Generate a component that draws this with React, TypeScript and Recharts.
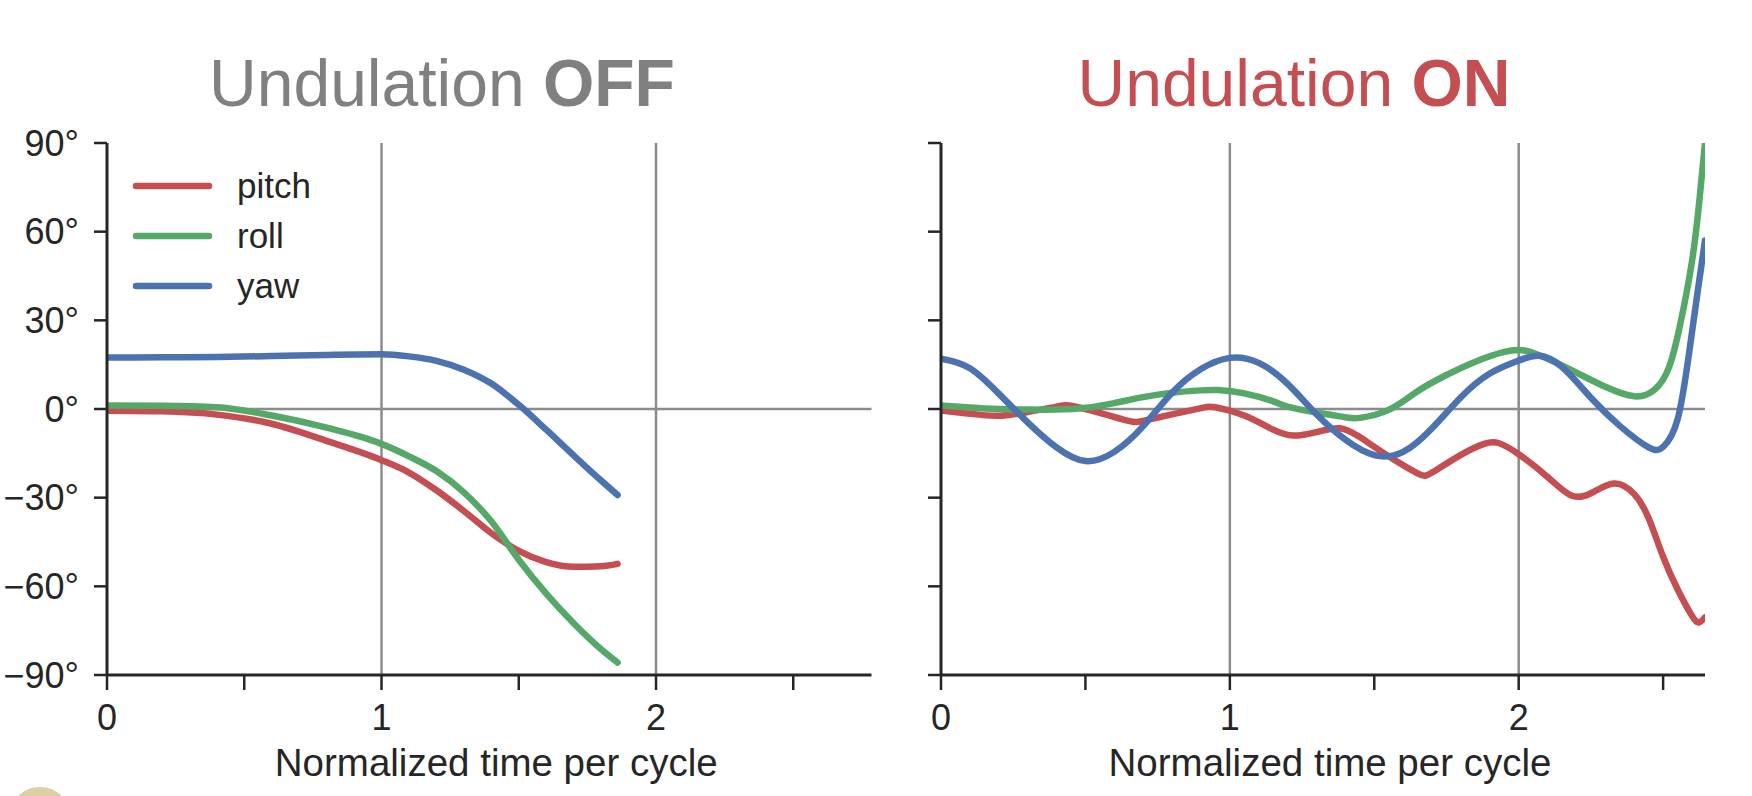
import React from 'react';
import { LineChart, Line, XAxis, YAxis, ReferenceLine, Legend, Label } from 'recharts';

// series names + seaborn "deep" colours
const seriesNames = ['pitch', 'roll', 'yaw'];
const seriesColors = ['#C44E52', '#55A868', '#4C72B0'];

const yTicks = [-90, -60, -30, 0, 30, 60, 90];
const xTicks = [0, 0.5, 1, 1.5, 2, 2.5];

// Undulation OFF
const offTime = [0, 0.2, 0.4, 0.6, 0.8, 1.0, 1.1, 1.2, 1.3, 1.4, 1.5, 1.6, 1.7, 1.8, 1.86];
const offPitch = [-0.6, -0.8, -1.9, -5.0, -10.8, -17.3, -21.5, -27.5, -34.5, -42, -48, -51.8, -53.4, -53.2, -52.4];
const offRoll = [1.2, 1.1, 0.6, -2.2, -6.3, -11.8, -16, -21, -28.2, -38, -51, -62.5, -72.5, -81.3, -85.8];
const offYaw = [17.4, 17.5, 17.6, 17.9, 18.3, 18.5, 17.8, 16.3, 13.3, 8.6, 1.4, -7, -15.7, -24.2, -29.1];

// Undulation ON
const onPitchTime = [0, 0.1, 0.2, 0.3, 0.4, 0.45, 0.55, 0.65, 0.7, 0.8, 0.9, 0.95, 1.05, 1.15, 1.22, 1.3, 1.38, 1.45, 1.55, 1.65, 1.7, 1.8, 1.88, 1.93, 2.0, 2.1, 2.18, 2.25, 2.33, 2.4, 2.45, 2.5, 2.55, 2.6, 2.625, 2.645];
const onPitch = [-0.5, -1.6, -2.3, -1, 0.8, 1.1, -1.3, -4, -4, -1.8, 0.3, 0.6, -2.2, -7, -9, -7.8, -6.5, -9.5, -16, -21.8, -21.5, -15.5, -11.8, -11.5, -15.3, -23, -29.2, -28.5, -25.2, -28.8, -37, -50, -61, -70, -72.2, -70.5];

const onRollTime = [0, 0.1, 0.2, 0.3, 0.4, 0.5, 0.6, 0.7, 0.8, 0.9, 0.96, 1.05, 1.15, 1.2, 1.3, 1.4, 1.45, 1.55, 1.65, 1.75, 1.85, 1.95, 2.02, 2.1, 2.2, 2.3, 2.4, 2.47, 2.52, 2.56, 2.6, 2.625, 2.645];
const onRoll = [1.2, 0.5, 0, -0.2, -0.2, 0.4, 2, 4, 5.5, 6.3, 6.4, 5.3, 2.6, 0.8, -1.2, -2.8, -3, -0.3, 6, 11.5, 16, 19.3, 19.8, 17, 12.3, 7.5, 4.3, 6.5, 14, 29, 50, 70, 90];

const onYawTime = [0, 0.1, 0.2, 0.3, 0.4, 0.5, 0.6, 0.7, 0.8, 0.9, 1.0, 1.1, 1.2, 1.3, 1.4, 1.5, 1.6, 1.7, 1.8, 1.9, 2.0, 2.07, 2.15, 2.25, 2.35, 2.45, 2.5, 2.55, 2.59, 2.62, 2.645];
const onYaw = [17, 13.8, 5.2, -4.5, -13, -17.6, -14.5, -5.8, 5.5, 13.5, 17.3, 15.6, 8.5, -1.8, -10.4, -15.6, -14.5, -6.5, 4, 12, 16.4, 18, 14.2, 3.8, -5.7, -13, -12.8, -3.5, 19, 40, 57];

const toPoints = (t: number[], v: number[]) => t.map((x, i) => ({ t: x, v: v[i] }));

const offSeries = [toPoints(offTime, offPitch), toPoints(offTime, offRoll), toPoints(offTime, offYaw)];
const onSeries = [
  toPoints(onPitchTime, onPitch),
  toPoints(onRollTime, onRoll),
  toPoints(onYawTime, onYaw),
];

const INK = '#262626';
const GRID = '#8c8c8c';
const FONT = '"Liberation Sans", Arial, Helvetica, sans-serif';

const degLabel = (v: number) => `${v < 0 ? '\u2212' : ''}${Math.abs(v)}°`;
const cycleLabel = (v: number) => (Number.isInteger(v) ? String(v) : '');

const LegendBox = () => (
  <svg width={240} height={150}>
    {seriesNames.map((name, i) => (
      <g key={name}>
        <line x1={16} x2={89} y1={26 + i * 50} y2={26 + i * 50} stroke={seriesColors[i]} strokeWidth={6.5} strokeLinecap="round" />
        <text x={117} y={26 + i * 50} dy={12} fontSize={35} fill={INK} fontFamily={FONT}>
          {name}
        </text>
      </g>
    ))}
  </svg>
);

interface PanelProps {
  series: { t: number; v: number }[][];
  width: number;
  axisWidth: number;
  rightMargin: number;
  xMax: number;
  curve: 'monotone' | 'natural';
  showYLabels: boolean;
  showLegend: boolean;
}

const Panel: React.FC<PanelProps> = ({ series, width, axisWidth, rightMargin, xMax, curve, showYLabels, showLegend }) => (
  <LineChart width={width} height={796} margin={{ top: 143, right: rightMargin, bottom: 0, left: 0 }}>
    <XAxis
      type="number"
      dataKey="t"
      domain={[0, xMax]}
      ticks={xTicks}
      allowDataOverflow
      height={121}
      tickFormatter={cycleLabel}
      tickSize={15}
      tickMargin={14}
      tick={{ fill: INK, fontSize: 36 }}
      axisLine={{ stroke: INK, strokeWidth: 3 }}
      tickLine={{ stroke: INK, strokeWidth: 2.5 }}
    >
      <Label value="Normalized time per cycle" position="insideBottom" offset={20} dx={7} fill={INK} fontSize={38.5} />
    </XAxis>
    <YAxis
      type="number"
      domain={[-90, 90]}
      ticks={yTicks}
      allowDataOverflow
      width={axisWidth}
      tickFormatter={showYLabels ? degLabel : () => ''}
      tickSize={13}
      tickMargin={15}
      tick={{ fill: INK, fontSize: 36 }}
      axisLine={{ stroke: INK, strokeWidth: 3 }}
      tickLine={{ stroke: INK, strokeWidth: 2.5 }}
    />
    <ReferenceLine y={0} stroke={GRID} strokeWidth={2.5} />
    <ReferenceLine x={1} stroke={GRID} strokeWidth={2.5} />
    <ReferenceLine x={2} stroke={GRID} strokeWidth={2.5} />
    {series.map((pts, i) => (
      <Line
        key={seriesNames[i]}
        data={pts}
        dataKey="v"
        name={seriesNames[i]}
        type={curve}
        stroke={seriesColors[i]}
        strokeWidth={6.5}
        strokeLinecap="round"
        dot={false}
        activeDot={false}
        isAnimationActive={false}
      />
    ))}
    {showLegend && (
      <Legend
        layout="horizontal"
        verticalAlign="middle"
        align="center"
        content={() => <LegendBox />}
        wrapperStyle={{ left: 120, top: 160, width: 240, height: 150 }}
      />
    )}
  </LineChart>
);

export default function App() {
  return (
    <div
      style={{
        position: 'absolute',
        left: 0,
        top: 0,
        width: 1752,
        height: 796,
        background: '#fff',
        overflow: 'hidden',
        fontFamily: FONT,
      }}
    >
      <div style={{ position: 'absolute', left: 0, top: 0 }}>
        <Panel series={offSeries} width={900} axisWidth={107} rightMargin={28.5} xMax={2.785} curve="monotone" showYLabels showLegend />
      </div>
      <div style={{ position: 'absolute', left: 880, top: 0 }}>
        <Panel series={onSeries} width={872} axisWidth={61} rightMargin={47} xMax={2.645} curve="natural" showYLabels={false} showLegend={false} />
      </div>
      <svg width={1752} height={796} style={{ position: 'absolute', left: 0, top: 0, pointerEvents: 'none' }}>
        <text x={442} y={106} textAnchor="middle" fontSize={66} fill="#808080" fontFamily={FONT}>
          Undulation <tspan fontWeight="bold">OFF</tspan>
        </text>
        <text x={1294} y={106} textAnchor="middle" fontSize={66} fill="#C44E52" fontFamily={FONT}>
          Undulation <tspan fontWeight="bold">ON</tspan>
        </text>
        <circle cx={40} cy={818} r={31} fill="#DCD0A2" />
      </svg>
    </div>
  );
}
